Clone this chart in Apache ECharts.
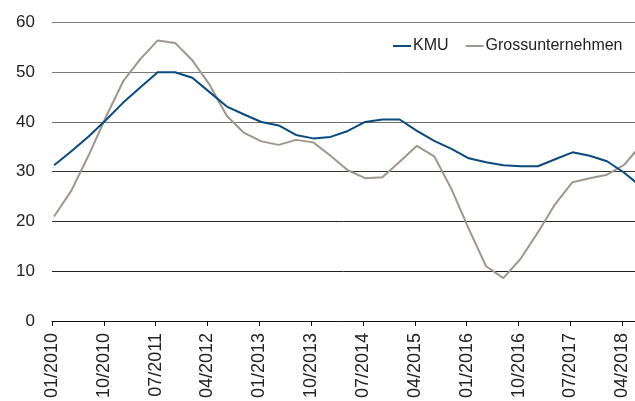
<!DOCTYPE html>
<html>
<head>
<meta charset="utf-8">
<script src="https://cdn.jsdelivr.net/npm/echarts@6/dist/echarts.min.js"></script>
<style>
  html, body { margin: 0; padding: 0; background: #fff; }
  #chart { width: 635px; height: 401px; }
</style>
</head>
<body>
<div id="chart"></div>
<script>
// Quarterly periods, 01/2010 .. 07/2018
const quarters = [
  '01/2010','04/2010','07/2010','10/2010',
  '01/2011','04/2011','07/2011','10/2011',
  '01/2012','04/2012','07/2012','10/2012',
  '01/2013','04/2013','07/2013','10/2013',
  '01/2014','04/2014','07/2014','10/2014',
  '01/2015','04/2015','07/2015','10/2015',
  '01/2016','04/2016','07/2016','10/2016',
  '01/2017','04/2017','07/2017','10/2017',
  '01/2018','04/2018','07/2018'
];

const kmu = [
  31.3, 34.1, 37.1, 40.4, 43.9, 47.0, 50.0, 50.0, 48.9, 46.0,
  43.1, 41.5, 40.0, 39.3, 37.4, 36.7, 37.0, 38.2, 40.0, 40.5,
  40.5, 38.2, 36.2, 34.6, 32.7, 31.9, 31.3, 31.1, 31.1, 32.5,
  33.9, 33.2, 32.1, 29.8, 26.9
];

const gross = [
  21.0, 26.2, 33.3, 41.0, 48.2, 52.7, 56.4, 55.9, 52.4, 47.5,
  41.2, 37.8, 36.1, 35.4, 36.4, 35.9, 33.2, 30.3, 28.7, 28.9,
  32.0, 35.2, 33.1, 26.5, 18.5, 11.0, 8.6, 12.5, 17.8, 23.5,
  27.9, 28.7, 29.4, 31.4, 35.5
];

const yTicks = [0, 10, 20, 30, 40, 50, 60];

const FONT = '"Liberation Sans", Arial, Helvetica, sans-serif';

const toPairs = arr => arr.map((v, i) => [i, v]);

const chart = echarts.init(document.getElementById('chart'), null, { renderer: 'canvas' });

chart.setOption({
  animation: false,
  backgroundColor: '#ffffff',
  textStyle: { fontFamily: FONT },
  grid: {
    left: 52,
    top: 22.5,
    right: 0,
    height: 299.8,
    containLabel: false
  },
  legend: {
    left: 388,
    top: 33,
    itemGap: 17,
    itemWidth: 18,
    itemHeight: 2,
    icon: 'rect',
    textStyle: { fontSize: 16, color: '#222', fontFamily: FONT, padding: [0, 0, 0, -3] },
    data: ['KMU', 'Grossunternehmen']
  },
  xAxis: {
    type: 'value',
    // points sit just right of the period ticks; the last quarter runs past the edge
    min: -0.12,
    max: 33.62,
    interval: 3,
    axisLine: { show: true, lineStyle: { color: '#111', width: 1 } },
    axisTick: { show: true, length: 5, lineStyle: { color: '#111', width: 1 } },
    splitLine: { show: false },
    axisLabel: {
      rotate: 90,
      margin: 12,
      fontSize: 18,
      color: '#222',
      fontFamily: FONT,
      formatter: function (v) {
        if (v > 33) return '';
        const k = Math.round(v);
        return quarters[k] || '';
      }
    }
  },
  yAxis: {
    type: 'value',
    min: yTicks[0],
    max: yTicks[yTicks.length - 1],
    interval: 10,
    axisLine: { show: false },
    axisTick: { show: false },
    axisLabel: { margin: 17, fontSize: 17, color: '#222', fontFamily: FONT },
    splitLine: {
      show: true,
      lineStyle: {
        color: ['#111', '#222', '#2a2a2a', '#333', '#6f6f6f', '#7a7a7a', '#7a7a7a'],
        width: 1
      }
    }
  },
  series: [
    {
      name: 'KMU',
      type: 'line',
      data: toPairs(kmu),
      showSymbol: false,
      symbol: 'none',
      lineStyle: { color: '#0b4a7c', width: 2 },
      itemStyle: { color: '#0b4a7c' },
      z: 3
    },
    {
      name: 'Grossunternehmen',
      type: 'line',
      data: toPairs(gross),
      showSymbol: false,
      symbol: 'none',
      lineStyle: { color: '#9f968e', width: 2 },
      itemStyle: { color: '#9f968e' },
      z: 2
    }
  ]
});
</script>
</body>
</html>
